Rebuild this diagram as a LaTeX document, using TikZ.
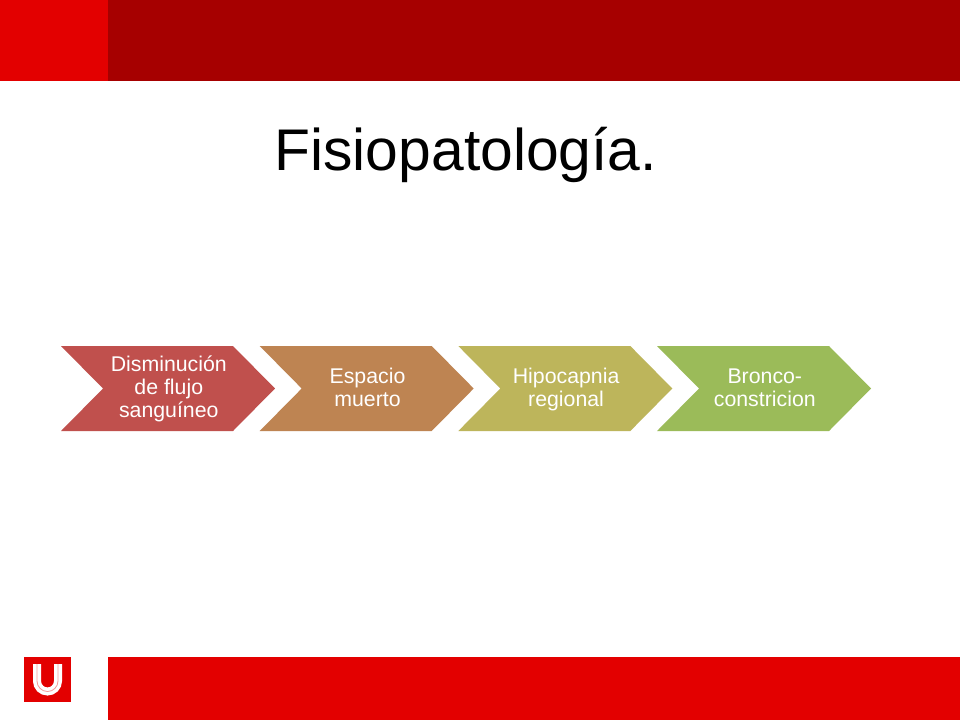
\documentclass[tikz,border=0pt]{standalone}
\usepackage{fontspec}
\setmainfont{Liberation Sans}
\definecolor{ured}{HTML}{E30000}
\definecolor{udark}{HTML}{A60000}
\definecolor{cha}{HTML}{C0504D}
\definecolor{chb}{HTML}{BE8452}
\definecolor{chc}{HTML}{BDB55B}
\definecolor{chd}{HTML}{9BBB59}
\newcommand{\topline}{\rule{0pt}{17pt}}
\newcommand{\botline}{\rule[-4.5pt]{0pt}{4.5pt}}
\tikzset{
  x=1pt,y=-1pt,
  chevlabel/.style={text=white,align=center,font=\fontsize{21.3}{23}\selectfont,inner sep=0pt},
  band/.style={fill=#1,draw=none}
}
\newcommand{\chevron}[3]{%
  \fill[#2] (#1,346) -- ++(172,0) -- ++(42,42.5) -- ++(-42,42.5) -- ++(-172,0) -- ++(42,-42.5) -- cycle;
  \node[chevlabel] (#3) at (#1+107.8,388.5)}
\begin{document}
\begin{tikzpicture}
\useasboundingbox (0,0) rectangle (960,720);
\fill[white] (0,0) rectangle (960,720);
\fill[band=udark] (108,0) rectangle (960,80.5);
\fill[band=ured] (0,0) rectangle (108,80.5);
\fill[band=ured] (108,657) rectangle (960,720);
\node[font=\fontsize{58.8}{60}\selectfont,inner sep=0pt,anchor=base] (title) at (465.7,170) {Fisiopatología.};
\chevron{61}{cha}{a} {\topline Disminución\\de flujo\\sanguíneo\botline};
\chevron{259.7}{chb}{b} {\topline Espacio\\muerto\botline};
\chevron{458.3}{chc}{c} {\topline Hipocapnia\\regional\botline};
\chevron{657}{chd}{d} {\topline Bronco-\\constricion\botline};
\fill[ured] (24,657) rectangle (71,702);
\draw[white,line width=8pt] (37,664) -- (37,681) arc[start angle=180,end angle=0,x radius=10.5,y radius=10.5] -- (58,664);
\draw[ured!40!white,line width=0.8pt] (37,664) -- (37,681) arc[start angle=180,end angle=0,x radius=10.5,y radius=10.5] -- (58,664);
\end{tikzpicture}
\end{document}
